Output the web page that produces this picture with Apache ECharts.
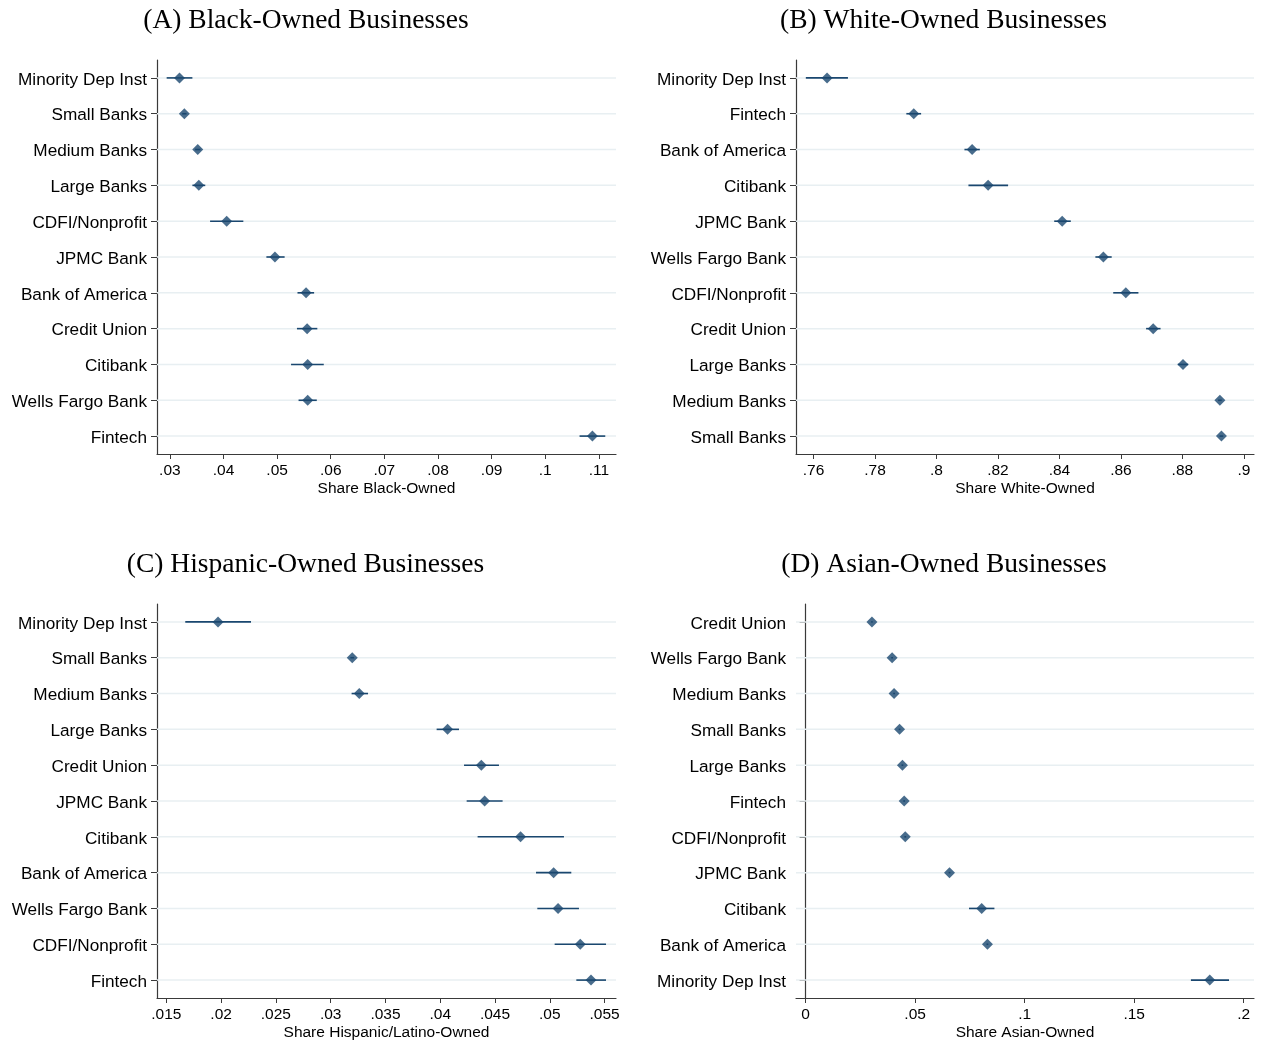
<!DOCTYPE html>
<html>
<head>
<meta charset="utf-8">
<script src="https://cdn.jsdelivr.net/npm/echarts@6/dist/echarts.min.js"></script>
<style>html,body{margin:0;padding:0;background:#fff}#c{width:1262px;height:1043px}</style>
</head>
<body>
<div id="c"></div>
<script>
// ---- Panel A: Black-Owned ----
const catsA = ['Minority Dep Inst','Small Banks','Medium Banks','Large Banks','CDFI/Nonprofit','JPMC Bank','Bank of America','Credit Union','Citibank','Wells Fargo Bank','Fintech'];
const estA = [0.0318,0.0327,0.0352,0.0354,0.0406,0.0496,0.0554,0.0556,0.0557,0.0557,0.1088];
const loA  = [0.0294,0.0323,0.0347,0.0342,0.0375,0.0480,0.0538,0.0537,0.0526,0.0540,0.1064];
const hiA  = [0.0342,0.0331,0.0357,0.0366,0.0437,0.0514,0.0569,0.0575,0.0587,0.0574,0.1112];
const ticksA = [0.03,0.04,0.05,0.06,0.07,0.08,0.09,0.10,0.11];

// ---- Panel B: White-Owned ----
const catsB = ['Minority Dep Inst','Fintech','Bank of America','Citibank','JPMC Bank','Wells Fargo Bank','CDFI/Nonprofit','Credit Union','Large Banks','Medium Banks','Small Banks'];
const estB = [0.7644,0.7926,0.8116,0.8168,0.8409,0.8543,0.8616,0.8705,0.8802,0.8922,0.8927];
const loB  = [0.7575,0.7902,0.8091,0.8104,0.8383,0.8517,0.8575,0.8682,0.8785,0.8916,0.8921];
const hiB  = [0.7712,0.7950,0.8141,0.8233,0.8437,0.8570,0.8657,0.8729,0.8819,0.8928,0.8933];
const ticksB = [0.76,0.78,0.80,0.82,0.84,0.86,0.88,0.90];

// ---- Panel C: Hispanic-Owned ----
const catsC = ['Minority Dep Inst','Small Banks','Medium Banks','Large Banks','Credit Union','JPMC Bank','Citibank','Bank of America','Wells Fargo Bank','CDFI/Nonprofit','Fintech'];
const estC = [0.01972,0.03197,0.03261,0.04067,0.04375,0.04405,0.04733,0.05035,0.05075,0.05278,0.05376];
const loC  = [0.01673,0.03180,0.03191,0.03967,0.04217,0.04241,0.04341,0.04874,0.04886,0.05044,0.05242];
const hiC  = [0.02273,0.03214,0.03341,0.04171,0.04536,0.04569,0.05129,0.05196,0.05266,0.05513,0.05513];
const ticksC = [0.015,0.02,0.025,0.03,0.035,0.04,0.045,0.05,0.055];

// ---- Panel D: Asian-Owned ----
const catsD = ['Credit Union','Wells Fargo Bank','Medium Banks','Small Banks','Large Banks','Fintech','CDFI/Nonprofit','JPMC Bank','Citibank','Bank of America','Minority Dep Inst'];
const estD = [0.0303,0.0395,0.0404,0.0429,0.0442,0.0450,0.0455,0.0657,0.0804,0.0830,0.1845];
const loD  = [0.0300,0.0391,0.0400,0.0425,0.0438,0.0446,0.0451,0.0653,0.0746,0.0826,0.1759];
const hiD  = [0.0306,0.0399,0.0408,0.0433,0.0446,0.0454,0.0459,0.0661,0.0862,0.0834,0.1933];
const ticksD = [0,0.05,0.10,0.15,0.20];

const titles = ['(A) Black-Owned Businesses','(B) White-Owned Businesses','(C) Hispanic-Owned Businesses','(D) Asian-Owned Businesses'];
const xNames = ['Share Black-Owned','Share White-Owned','Share Hispanic/Latino-Owned','Share Asian-Owned'];

const panels = [
  {cats:catsA, est:estA, lo:loA, hi:hiA, ticks:ticksA, min:0.0276, max:0.1132},
  {cats:catsB, est:estB, lo:loB, hi:hiB, ticks:ticksB, min:0.7543, max:0.9033},
  {cats:catsC, est:estC, lo:loC, hi:hiC, ticks:ticksC, min:0.01415, max:0.05604},
  {cats:catsD, est:estD, lo:loD, hi:hiD, ticks:ticksD, min:-0.00438, max:0.2047}
];

const layout = [
  {left:157, top:60, width:459, height:394, tx:306, ty:7},
  {left:796, top:60, width:458, height:394, tx:943.5, ty:7},
  {left:157, top:604, width:459, height:394, tx:305.5, ty:551},
  {left:796, top:604, width:458, height:394, tx:944, ty:551}
];

const NAVY = '#1a476f';
const GRIDC = '#e8eff2';
const AXC = '#3a3a3a';
const SANS = '"Liberation Sans", Arial, Helvetica, sans-serif';
const SERIF = '"Liberation Serif", "Times New Roman", serif';

function fmt(v){
  if (Math.abs(v) < 1e-12) return '0';
  return parseFloat(v.toFixed(4)).toString().replace(/^0\./,'.');
}

function renderCI(params, api){
  const lo = api.value(1), hi = api.value(2), idx = api.value(0);
  const p1 = api.coord([lo, idx]);
  const p2 = api.coord([hi, idx]);
  const cs = params.coordSys;
  return {type:'group', children:[
    {type:'line', shape:{x1:cs.x, y1:p1[1], x2:cs.x+cs.width, y2:p1[1]}, style:{stroke:GRIDC, lineWidth:1.5}},
    {type:'line', shape:{x1:p1[0], y1:p1[1], x2:p2[0], y2:p2[1]}, style:{stroke:NAVY, lineWidth:1.6}}
  ]};
}

const option = {
  animation:false,
  backgroundColor:'#fff',
  title: titles.map((t,i)=>({text:t, left:layout[i].tx, top:layout[i].ty, textAlign:'center', padding:0,
    textStyle:{fontFamily:SERIF, fontSize:27.5, fontWeight:'normal', color:'#000'}})),
  grid: layout.map(l=>({left:l.left, top:l.top, width:l.width, height:l.height, containLabel:false})),
  xAxis: panels.map((p,i)=>({
    type:'value', gridIndex:i, min:p.min, max:p.max,
    name:xNames[i], nameLocation:'middle', nameGap:27,
    nameTextStyle:{fontFamily:SANS, fontSize:15.5, color:'#000'},
    axisLine:{show:true, lineStyle:{color:AXC, width:1.2}},
    axisTick:{show:true, inside:false, length:5, customValues:p.ticks, lineStyle:{color:AXC}},
    axisLabel:{show:true, customValues:p.ticks, formatter:fmt, margin:9, fontFamily:SANS, fontSize:15.5, color:'#000'},
    splitLine:{show:false}
  })),
  yAxis: panels.map((p,i)=>({
    type:'category', gridIndex:i, data:p.cats, inverse:true, boundaryGap:true,
    axisLine:{show:true, lineStyle:{color:AXC, width:1.2}},
    axisTick:{show:true, alignWithLabel:true, length:6, lineStyle:{color:AXC}},
    axisLabel:{margin:10, fontFamily:SANS, fontSize:17.2, color:'#000',
      formatter: v => '{a|' + v + '}',
      rich:{a:{fontFamily:SANS, fontSize:17.2, color:'#000', padding:[4,0,0,0]}}},
    splitLine:{show:false}
  })),
  series: []
};

panels.forEach((p,i)=>{
  option.series.push({
    type:'custom', xAxisIndex:i, yAxisIndex:i, z:2,
    renderItem:renderCI,
    encode:{x:[1,2], y:0},
    data: p.cats.map((c,k)=>[k, p.lo[k], p.hi[k]])
  });
  option.series.push({
    type:'scatter', xAxisIndex:i, yAxisIndex:i, z:3,
    symbol:'diamond', symbolSize:[11,11],
    itemStyle:{color:NAVY},
    data: p.est.map((v,k)=>[v, k])
  });
});

const chart = echarts.init(document.getElementById('c'), null, {renderer:'canvas'});
chart.setOption(option);
</script>
</body>
</html>
